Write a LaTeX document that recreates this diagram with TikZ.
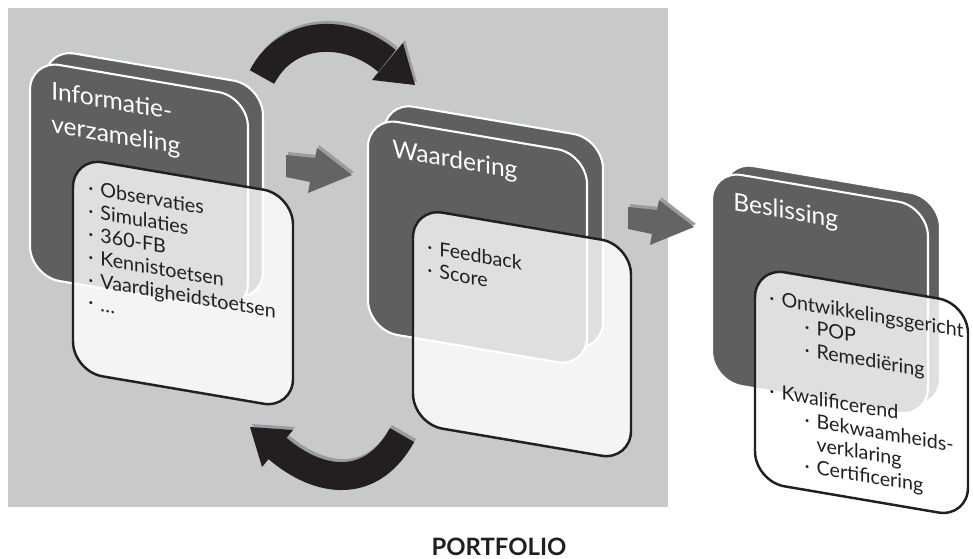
\documentclass[tikz,border=0pt]{standalone}
\usepackage{fontspec}
\setmainfont{Lato}
\usepackage{xcolor}
\usepackage{tikz}

\definecolor{bggray}{HTML}{C8C9CB}
\definecolor{cardgray}{HTML}{5F5F61}
\definecolor{arrowgray}{HTML}{646466}
\definecolor{shadegray}{HTML}{9C9C9E}
\definecolor{inkblack}{HTML}{231F20}

\newcommand{\bul}{\textperiodcentered\hspace{4pt}}
\newcommand{\subbul}{\hspace{20pt}\bul}

\begin{document}
\begin{tikzpicture}[x=0.02cm,y=-0.02cm,
  darkcard/.style={fill=cardgray,draw=white,line width=1.2pt,rounded corners=0.6cm},
  listcard/.style={fill=white,fill opacity=0.8,draw=inkblack,line width=1.4pt,rounded corners=0.6cm},
  head/.style={anchor=north west,inner sep=0pt,text=white,align=left,font=\fontsize{14}{19}\selectfont},
  items/.style={anchor=north west,inner sep=0pt,text=inkblack,align=left,font=\fontsize{11.2}{13}\selectfont},
  loopband/.style={line width=15.9pt},
  card/.style={yslant=-0.17,transform shape}]
\useasboundingbox (0,0) rectangle (973,558);
\fill[bggray] (8,8) rectangle (668,507);

% curved arrows
\begin{scope}[shift={(2,-3)},shadegray]
\draw[loopband] (262,77) .. controls (287,29) and (347,27) .. (387,61);
\fill (403,43) -- (415,85) -- (372,80) -- cycle;
\draw[loopband] (402,435) .. controls (372,490) and (320,485) .. (277,448);
\fill (293,430) -- (250,427) -- (262,467) -- cycle;
\end{scope}
\draw[loopband,inkblack] (262,77) .. controls (287,29) and (347,27) .. (387,61);
\fill[inkblack] (403,43) -- (415,85) -- (372,80) -- cycle;
\draw[loopband,inkblack] (402,435) .. controls (372,490) and (320,485) .. (277,448);
\fill[inkblack] (293,430) -- (250,427) -- (262,467) -- cycle;

% block arrows
\foreach \ax/\ay in {286/155,628/207}{
  \fill[shadegray,shift={(\ax+2,\ay-3)}] (0,0) -- (29,3) -- (31,-7) -- (66,20) -- (22,38) -- (24,27) -- (0,22) -- cycle;
  \fill[arrowgray,shift={(\ax,\ay)}] (0,0) -- (29,3) -- (31,-7) -- (66,20) -- (22,38) -- (24,27) -- (0,22) -- cycle;
}

% Informatieverzameling
\begin{scope}[shift={(30,60)},card]
\draw[darkcard] (15,-14) rectangle ++(218,216);
\draw[darkcard] (0,0) rectangle ++(218,216);
\node[head] (info) at (21,17) {Informatie-\\verzameling};
\draw[listcard] (43,90) rectangle ++(220,214);
\node[items] (infolist) at (58,110) {\bul Observaties\\ \bul Simulaties\\ \bul 360-FB\\ \bul Kennistoetsen\\ \bul Vaardigheidstoetsen\\ \bul \ldots};
\end{scope}

% Waardering
\begin{scope}[shift={(368,117)},card]
\draw[darkcard] (16,-18) rectangle ++(219,213);
\draw[darkcard] (0,0) rectangle ++(219,213);
\node[head] (waard) at (24,18) {Waardering};
\draw[listcard] (45,83) rectangle ++(218,216);
\node[items] (waardlist) at (59,112) {\bul Feedback\\ \bul Score};
\end{scope}

% Beslissing
\begin{scope}[shift={(712,170)},card]
\draw[darkcard] (12,-11) rectangle ++(216,211);
\draw[darkcard] (0,0) rectangle ++(216,211);
\node[head] (besl) at (21,18) {Beslissing};
\draw[listcard] (43,90) rectangle ++(213,214);
\node[items] (beslist) at (57,110) {\bul Ontwikkelingsgericht\\ \subbul POP\\ \subbul Remediëring\\[14pt]
  \bul Kwalificerend\\ \subbul Bekwaamheids-\\ \hspace{20pt}\phantom{\bul}verklaring\\ \subbul Certificering};
\end{scope}

\node[anchor=base,inner sep=0pt,text=inkblack,font=\fontsize{13.6}{15}\selectfont\bfseries] (portfolio) at (499,555) {PORTFOLIO};
\end{tikzpicture}
\end{document}
